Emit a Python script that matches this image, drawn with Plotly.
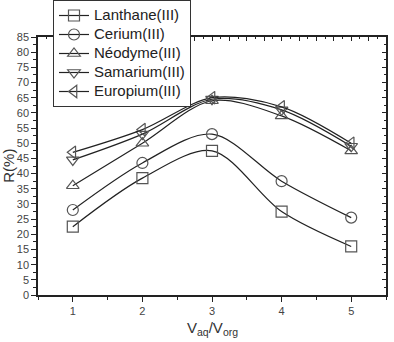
import plotly.graph_objects as go

ratios = [1, 2, 3, 4, 5]
lanthane = [22.5, 38.5, 47.5, 27.5, 16.0]
cerium = [28.0, 43.5, 53.0, 37.5, 25.5]
neodyme = [36.0, 50.0, 64.0, 59.0, 47.5]
samarium = [44.5, 53.0, 64.5, 61.0, 49.0]
europium = [47.0, 54.5, 65.0, 62.0, 50.0]

series = [
    ("Lanthane(III)", lanthane, "square-open"),
    ("Cerium(III)", cerium, "circle-open"),
    ("Néodyme(III)", neodyme, "triangle-up-open"),
    ("Samarium(III)", samarium, "triangle-down-open"),
    ("Europium(III)", europium, "triangle-left-open"),
]

fig = go.Figure()
for name, vals, sym in series:
    fig.add_trace(go.Scatter(
        x=ratios, y=vals, name='<span style="font-size:15px">' + name + '</span>',
        mode="lines+markers",
        line=dict(color="#222", width=1.2, shape="spline", smoothing=0.9),
        marker=dict(symbol=sym, size=11, color="#555", line=dict(width=1.2, color="#555")),
    ))

# invisible trace for top/right mirror axes
fig.add_trace(go.Scatter(x=[3], y=[40], xaxis="x2", yaxis="y2", mode="markers",
                         marker=dict(opacity=0), showlegend=False, hoverinfo="skip"))

axis_font = dict(family="Liberation Sans, Arial, sans-serif", size=11, color="#444")
fig.update_layout(
    width=394, height=342,
    margin=dict(l=38, r=8, t=37, b=47, autoexpand=False),
    paper_bgcolor="white", plot_bgcolor="white",
    font=dict(family="Liberation Sans, Arial, sans-serif", color="#222"),
    xaxis=dict(range=[0.5, 5.5], tickvals=ratios, ticks="outside", ticklen=5, tickcolor="#222",
               showline=True, linecolor="#222", linewidth=1.5, showgrid=False, zeroline=False,
               tickfont=axis_font, ticklabelstandoff=0, automargin=False,
               minor=dict(dtick=0.5, tick0=0.5, ticks="outside", ticklen=3, tickcolor="#222")),
    yaxis=dict(range=[0, 85], dtick=5, ticks="outside", ticklen=5, tickcolor="#222",
               showline=True, linecolor="#222", linewidth=1.5, showgrid=False, zeroline=False,
               tickfont=axis_font, ticklabelstandoff=0, automargin=False,
               minor=dict(dtick=2.5, ticks="outside", ticklen=3, tickcolor="#222")),
    xaxis2=dict(range=[0.5, 5.5], overlaying="x", side="top", anchor="y", showticklabels=False,
                dtick=0.25, tick0=0.5, ticks="inside", ticklen=4, tickcolor="#222",
                showline=True, linecolor="#222", linewidth=1.5, showgrid=False, zeroline=False,
                automargin=False,
                minor=dict(dtick=0.125, ticks="inside", ticklen=2, tickcolor="#222")),
    yaxis2=dict(range=[0, 85], overlaying="y", side="right", anchor="x", showticklabels=False,
                dtick=5, ticks="inside", ticklen=4, tickcolor="#222",
                showline=True, linecolor="#222", linewidth=1.5, showgrid=False, zeroline=False,
                automargin=False,
                minor=dict(dtick=2.5, ticks="inside", ticklen=2, tickcolor="#222")),
    legend=dict(x=53 / 394, y=1.044, xref="container", yref="container",
                xanchor="left", yanchor="top",
                bgcolor="white", bordercolor="#333", borderwidth=1,
                font=dict(size=12, color="#222"), itemwidth=30,
                tracegroupgap=0),
    showlegend=True,
    annotations=[
        dict(text="R(%)", xref="paper", yref="paper", x=-0.087, y=0.5, xanchor="center",
             yanchor="middle", textangle=-90, showarrow=False,
             font=dict(size=15, color="#333")),
        dict(text="V<sub>aq</sub>/V<sub>org</sub>", xref="paper", yref="paper", x=0.5,
             y=-0.128, xanchor="center", yanchor="middle", showarrow=False,
             font=dict(size=15, color="#333")),
    ],
)

fig.write_html("out.html")
